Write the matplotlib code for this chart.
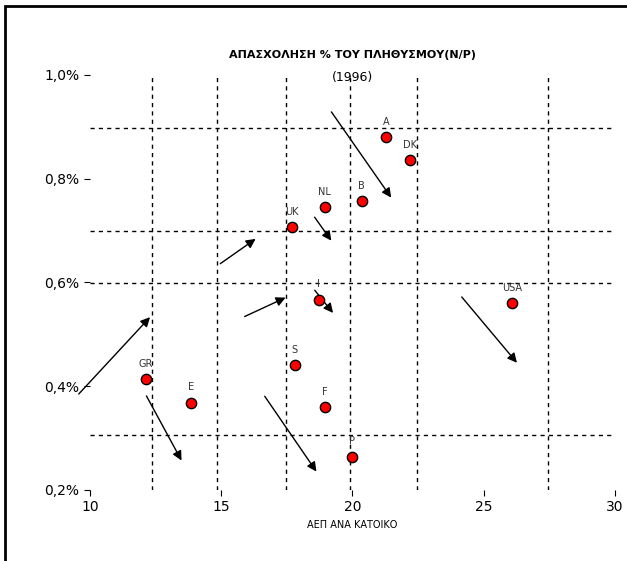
import matplotlib.pyplot as plt
import matplotlib.patches as mpatches

countries = ["GR", "E", "S", "F", "P", "I", "UK", "NL", "B", "A", "DK", "USA"]
gdp = [12.13, 13.85, 17.8, 18.95, 19.98, 18.72, 17.7, 18.95, 20.36, 21.3, 22.2, 26.1]
employment = [0.414, 0.368, 0.441, 0.36, 0.264, 0.567, 0.706, 0.745, 0.757, 0.88, 0.836, 0.56]

grid_x = [12.36, 14.84, 17.47, 19.9, 22.46, 27.45]
grid_y = [0.898, 0.70, 0.599, 0.306]

# (x0, y0, x1, y1)
arrows = [
    (9.5, 0.381, 12.36, 0.537),
    (12.1, 0.386, 13.54, 0.252),
    (14.88, 0.633, 16.4, 0.687),
    (15.8, 0.532, 17.55, 0.573),
    (16.6, 0.385, 18.69, 0.231),
    (18.5, 0.73, 19.26, 0.676),
    (18.5, 0.589, 19.33, 0.537),
    (19.14, 0.933, 21.54, 0.759),
    (24.1, 0.576, 26.34, 0.441),
]

fig = plt.figure(figsize=(6.27, 5.61), dpi=100)
fig.patches.append(mpatches.Rectangle((0.008, -0.02), 1.1, 1.01, transform=fig.transFigure,
                                      fill=False, edgecolor="black", linewidth=2))
ax = fig.add_axes([0.1435, 0.1266, 0.837, 0.74])

for gx in grid_x:
    ax.axvline(gx, color="black", linestyle=(0, (3, 3)), linewidth=1)
for gy in grid_y:
    ax.axhline(gy, color="black", linestyle=(0, (3, 3)), linewidth=1)

for x0, y0, x1, y1 in arrows:
    ax.annotate("", xy=(x1, y1), xytext=(x0, y0), annotation_clip=False,
                arrowprops=dict(arrowstyle="-|>", color="black", lw=1, mutation_scale=14))

ax.scatter(gdp, employment, s=55, color="red", edgecolors="black", zorder=5)
for name, x, y in zip(countries, gdp, employment):
    ax.text(x, y + 0.02, name, fontsize=7, color="#333333", ha="center", va="bottom")

ax.set_xlim(10, 30)
ax.set_ylim(0.2, 1.0)
ax.set_xticks([10, 15, 20, 25, 30])
ax.set_yticks([0.2, 0.4, 0.6, 0.8, 1.0])
ax.set_yticklabels(["0,2%", "0,4%", "0,6%", "0,8%", "1,0%"])
for s in ax.spines.values():
    s.set_visible(False)
ax.tick_params(length=4, labelsize=10)
ax.set_xlabel("ΑΕΠ ΑΝΑ ΚΑΤΟΙΚΟ", fontsize=7)
ax.text(0.5, 1.04, "ΑΠΑΣΧΟΛΗΣΗ % ΤΟΥ ΠΛΗΘΥΣΜΟΥ(N/P)", transform=ax.transAxes,
        ha="center", fontsize=8, fontweight="bold")
ax.text(0.5, 0.985, "(1996)", transform=ax.transAxes, ha="center", fontsize=9)

fig.savefig("out.png", dpi=100)
